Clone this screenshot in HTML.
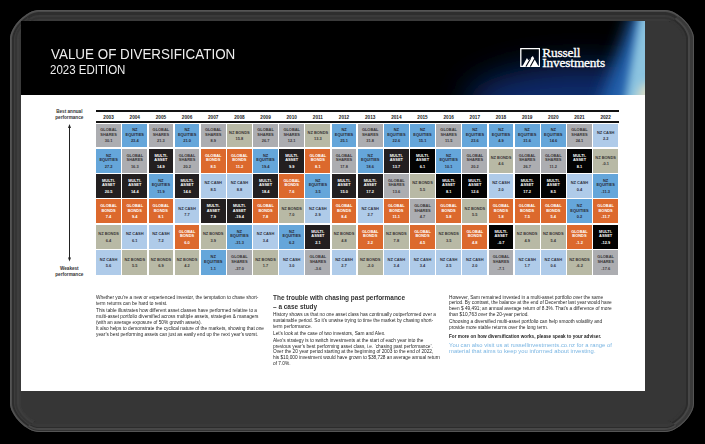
<!DOCTYPE html>
<html><head><meta charset="utf-8">
<style>
html,body{margin:0;padding:0;}
body{width:705px;height:444px;background:#000;position:relative;overflow:hidden;font-family:"Liberation Sans",sans-serif;}
.doc{position:absolute;left:21px;top:21px;width:624px;height:370px;background:#fff;overflow:hidden;}
.hdr{position:absolute;left:0;top:0;width:624px;height:74px;background:#000;overflow:hidden;}
.glow{position:absolute;left:0;top:0;width:624px;height:74px;}
.t1{position:absolute;left:29.5px;top:24.7px;color:#eee;font-size:15.5px;line-height:16px;white-space:nowrap;transform:scaleX(0.865);transform-origin:0 0;}
.t2{position:absolute;left:28.6px;top:42.3px;color:#eee;font-size:12.5px;line-height:14px;white-space:nowrap;transform:scaleX(0.92);transform-origin:0 0;}
.logo{position:absolute;left:498.6px;top:26.8px;width:20.3px;height:19px;}
.rus{position:absolute;left:521.3px;top:26.6px;color:#fff;font-family:"Liberation Serif",serif;font-size:13.3px;line-height:10.4px;white-space:nowrap;letter-spacing:-0.15px;-webkit-text-stroke:0.35px #fff;}
.c{position:absolute;display:flex;align-items:center;justify-content:center;text-align:center;font-weight:bold;}
.c>div{display:flex;flex-direction:column;align-items:center;padding-top:1.4px;}
.l{font-size:3.95px;line-height:4.6px;}
.v{font-size:3.95px;line-height:4.5px;margin-top:1.9px;}
.GS{background:#acadb1;color:#3a3536;}
.NE{background:#65a6da;color:#2a2a35;}
.MA{background:#231f20;color:#fff;}
.MB{background:#030303;}
.GB{background:#dc692d;color:#fff;}
.NB{background:#b8b9a5;color:#3a3536;}
.NC{background:#afcbe9;color:#2e3040;}
.yr{position:absolute;top:115.1px;height:6px;font-size:4.7px;line-height:6px;font-weight:bold;text-align:center;color:#222;}
.line{position:absolute;left:95.9px;width:523px;height:2px;background:#111;}
.side{position:absolute;font-size:4.65px;line-height:6.1px;font-weight:bold;color:#333;text-align:center;width:40px;}
.arr{position:absolute;left:69px;top:127px;width:1px;height:131px;background:#222;}
.p{position:absolute;font-size:4.9px;line-height:5.9px;color:#252525;white-space:nowrap;transform:scaleX(0.973);transform-origin:0 0;}
.p div{margin-bottom:0.9px;}
</style></head><body>
<svg style="position:absolute;left:0;top:0" width="705" height="444" viewBox="0 0 705 444"><defs>
<clipPath id="cL"><path shape-rendering="crispEdges" d="M0 0L352 221L0 444Z"/></clipPath>
<clipPath id="cT"><path shape-rendering="crispEdges" d="M0 0L352 221L705 0Z"/></clipPath>
<clipPath id="cR"><path shape-rendering="crispEdges" d="M705 0L352 221L705 444Z"/></clipPath>
<clipPath id="cB"><path shape-rendering="crispEdges" d="M0 444L352 221L705 444Z"/></clipPath>
</defs>
<path d="M38.80 10.00H665.20C677.30 10.00 694.00 26.70 694.00 38.80V403.20C694.00 415.30 677.30 432.00 665.20 432.00H38.80C26.70 432.00 10.00 415.30 10.00 403.20V38.80C10.00 26.70 26.70 10.00 38.80 10.00Z" fill="#3a3a3a"/>
<g clip-path="url(#cL)">
<path d="M38.80 10.00H665.20C677.30 10.00 694.00 26.70 694.00 38.80V403.20C694.00 415.30 677.30 432.00 665.20 432.00H38.80C26.70 432.00 10.00 415.30 10.00 403.20V38.80C10.00 26.70 26.70 10.00 38.80 10.00Z" fill="#555"/>
<path d="M38.80 11.00H665.20C676.88 11.00 693.00 27.12 693.00 38.80V403.20C693.00 414.88 676.88 431.00 665.20 431.00H38.80C27.12 431.00 11.00 414.88 11.00 403.20V38.80C11.00 27.12 27.12 11.00 38.80 11.00Z" fill="#4d4d4d"/>
<path d="M38.80 12.00H665.20C676.46 12.00 692.00 27.54 692.00 38.80V403.20C692.00 414.46 676.46 430.00 665.20 430.00H38.80C27.54 430.00 12.00 414.46 12.00 403.20V38.80C12.00 27.54 27.54 12.00 38.80 12.00Z" fill="#2e2e2e"/>
<path d="M38.80 13.00H665.20C676.04 13.00 691.00 27.96 691.00 38.80V403.20C691.00 414.04 676.04 429.00 665.20 429.00H38.80C27.96 429.00 13.00 414.04 13.00 403.20V38.80C13.00 27.96 27.96 13.00 38.80 13.00Z" fill="#2e2e2e"/>
<path d="M38.80 14.00H665.20C675.62 14.00 690.00 28.38 690.00 38.80V403.20C690.00 413.62 675.62 428.00 665.20 428.00H38.80C28.38 428.00 14.00 413.62 14.00 403.20V38.80C14.00 28.38 28.38 14.00 38.80 14.00Z" fill="#3c3c3c"/>
<path d="M38.80 15.00H665.20C675.20 15.00 689.00 28.80 689.00 38.80V403.20C689.00 413.20 675.20 427.00 665.20 427.00H38.80C28.80 427.00 15.00 413.20 15.00 403.20V38.80C15.00 28.80 28.80 15.00 38.80 15.00Z" fill="#353535"/>
<path d="M38.80 16.00H665.20C674.78 16.00 688.00 29.22 688.00 38.80V403.20C688.00 412.78 674.78 426.00 665.20 426.00H38.80C29.22 426.00 16.00 412.78 16.00 403.20V38.80C16.00 29.22 29.22 16.00 38.80 16.00Z" fill="#353535"/>
<path d="M38.80 17.00H665.20C674.36 17.00 687.00 29.64 687.00 38.80V403.20C687.00 412.36 674.36 425.00 665.20 425.00H38.80C29.64 425.00 17.00 412.36 17.00 403.20V38.80C17.00 29.64 29.64 17.00 38.80 17.00Z" fill="#3e3e3e"/>
<path d="M38.80 18.00H665.20C673.94 18.00 686.00 30.06 686.00 38.80V403.20C686.00 411.94 673.94 424.00 665.20 424.00H38.80C30.06 424.00 18.00 411.94 18.00 403.20V38.80C18.00 30.06 30.06 18.00 38.80 18.00Z" fill="#3e3e3e"/>
<path d="M38.80 19.00H665.20C673.52 19.00 685.00 30.48 685.00 38.80V403.20C685.00 411.52 673.52 423.00 665.20 423.00H38.80C30.48 423.00 19.00 411.52 19.00 403.20V38.80C19.00 30.48 30.48 19.00 38.80 19.00Z" fill="#3a3a3a"/>
<path d="M38.80 20.00H665.20C673.10 20.00 684.00 30.90 684.00 38.80V403.20C684.00 411.10 673.10 422.00 665.20 422.00H38.80C30.90 422.00 20.00 411.10 20.00 403.20V38.80C20.00 30.90 30.90 20.00 38.80 20.00Z" fill="#3a3a3a"/>
<path d="M38.80 21.00H665.20C672.68 21.00 683.00 31.32 683.00 38.80V403.20C683.00 410.68 672.68 421.00 665.20 421.00H38.80C31.32 421.00 21.00 410.68 21.00 403.20V38.80C21.00 31.32 31.32 21.00 38.80 21.00Z" fill="#363636"/>
</g>
<g clip-path="url(#cT)">
<path d="M38.80 10.00H665.20C677.30 10.00 694.00 26.70 694.00 38.80V403.20C694.00 415.30 677.30 432.00 665.20 432.00H38.80C26.70 432.00 10.00 415.30 10.00 403.20V38.80C10.00 26.70 26.70 10.00 38.80 10.00Z" fill="#555"/>
<path d="M38.80 11.00H665.20C676.88 11.00 693.00 27.12 693.00 38.80V403.20C693.00 414.88 676.88 431.00 665.20 431.00H38.80C27.12 431.00 11.00 414.88 11.00 403.20V38.80C11.00 27.12 27.12 11.00 38.80 11.00Z" fill="#4a4a4a"/>
<path d="M38.80 12.00H665.20C676.46 12.00 692.00 27.54 692.00 38.80V403.20C692.00 414.46 676.46 430.00 665.20 430.00H38.80C27.54 430.00 12.00 414.46 12.00 403.20V38.80C12.00 27.54 27.54 12.00 38.80 12.00Z" fill="#2e2e2e"/>
<path d="M38.80 13.00H665.20C676.04 13.00 691.00 27.96 691.00 38.80V403.20C691.00 414.04 676.04 429.00 665.20 429.00H38.80C27.96 429.00 13.00 414.04 13.00 403.20V38.80C13.00 27.96 27.96 13.00 38.80 13.00Z" fill="#2e2e2e"/>
<path d="M38.80 14.00H665.20C675.62 14.00 690.00 28.38 690.00 38.80V403.20C690.00 413.62 675.62 428.00 665.20 428.00H38.80C28.38 428.00 14.00 413.62 14.00 403.20V38.80C14.00 28.38 28.38 14.00 38.80 14.00Z" fill="#2e2e2e"/>
<path d="M38.80 15.00H665.20C675.20 15.00 689.00 28.80 689.00 38.80V403.20C689.00 413.20 675.20 427.00 665.20 427.00H38.80C28.80 427.00 15.00 413.20 15.00 403.20V38.80C15.00 28.80 28.80 15.00 38.80 15.00Z" fill="#3a3a3a"/>
<path d="M38.80 16.00H665.20C674.78 16.00 688.00 29.22 688.00 38.80V403.20C688.00 412.78 674.78 426.00 665.20 426.00H38.80C29.22 426.00 16.00 412.78 16.00 403.20V38.80C16.00 29.22 29.22 16.00 38.80 16.00Z" fill="#3a3a3a"/>
<path d="M38.80 17.00H665.20C674.36 17.00 687.00 29.64 687.00 38.80V403.20C687.00 412.36 674.36 425.00 665.20 425.00H38.80C29.64 425.00 17.00 412.36 17.00 403.20V38.80C17.00 29.64 29.64 17.00 38.80 17.00Z" fill="#333"/>
<path d="M38.80 18.00H665.20C673.94 18.00 686.00 30.06 686.00 38.80V403.20C686.00 411.94 673.94 424.00 665.20 424.00H38.80C30.06 424.00 18.00 411.94 18.00 403.20V38.80C18.00 30.06 30.06 18.00 38.80 18.00Z" fill="#333"/>
<path d="M38.80 19.00H665.20C673.52 19.00 685.00 30.48 685.00 38.80V403.20C685.00 411.52 673.52 423.00 665.20 423.00H38.80C30.48 423.00 19.00 411.52 19.00 403.20V38.80C19.00 30.48 30.48 19.00 38.80 19.00Z" fill="#3a3a3a"/>
<path d="M38.80 20.00H665.20C673.10 20.00 684.00 30.90 684.00 38.80V403.20C684.00 411.10 673.10 422.00 665.20 422.00H38.80C30.90 422.00 20.00 411.10 20.00 403.20V38.80C20.00 30.90 30.90 20.00 38.80 20.00Z" fill="#3a3a3a"/>
<path d="M38.80 21.00H665.20C672.68 21.00 683.00 31.32 683.00 38.80V403.20C683.00 410.68 672.68 421.00 665.20 421.00H38.80C31.32 421.00 21.00 410.68 21.00 403.20V38.80C21.00 31.32 31.32 21.00 38.80 21.00Z" fill="#363636"/>
</g>
<g clip-path="url(#cR)">
<path d="M38.80 10.00H665.20C677.30 10.00 694.00 26.70 694.00 38.80V403.20C694.00 415.30 677.30 432.00 665.20 432.00H38.80C26.70 432.00 10.00 415.30 10.00 403.20V38.80C10.00 26.70 26.70 10.00 38.80 10.00Z" fill="#555"/>
<path d="M38.80 11.00H665.20C676.88 11.00 693.00 27.12 693.00 38.80V403.20C693.00 414.88 676.88 431.00 665.20 431.00H38.80C27.12 431.00 11.00 414.88 11.00 403.20V38.80C11.00 27.12 27.12 11.00 38.80 11.00Z" fill="#3a3a3a"/>
<path d="M38.80 12.00H665.20C676.46 12.00 692.00 27.54 692.00 38.80V403.20C692.00 414.46 676.46 430.00 665.20 430.00H38.80C27.54 430.00 12.00 414.46 12.00 403.20V38.80C12.00 27.54 27.54 12.00 38.80 12.00Z" fill="#3a3a3a"/>
<path d="M38.80 13.00H665.20C676.04 13.00 691.00 27.96 691.00 38.80V403.20C691.00 414.04 676.04 429.00 665.20 429.00H38.80C27.96 429.00 13.00 414.04 13.00 403.20V38.80C13.00 27.96 27.96 13.00 38.80 13.00Z" fill="#3a3a3a"/>
<path d="M38.80 14.00H665.20C675.62 14.00 690.00 28.38 690.00 38.80V403.20C690.00 413.62 675.62 428.00 665.20 428.00H38.80C28.38 428.00 14.00 413.62 14.00 403.20V38.80C14.00 28.38 28.38 14.00 38.80 14.00Z" fill="#474747"/>
<path d="M38.80 15.00H665.20C675.20 15.00 689.00 28.80 689.00 38.80V403.20C689.00 413.20 675.20 427.00 665.20 427.00H38.80C28.80 427.00 15.00 413.20 15.00 403.20V38.80C15.00 28.80 28.80 15.00 38.80 15.00Z" fill="#474747"/>
<path d="M38.80 16.00H665.20C674.78 16.00 688.00 29.22 688.00 38.80V403.20C688.00 412.78 674.78 426.00 665.20 426.00H38.80C29.22 426.00 16.00 412.78 16.00 403.20V38.80C16.00 29.22 29.22 16.00 38.80 16.00Z" fill="#2c2c2c"/>
<path d="M38.80 17.00H665.20C674.36 17.00 687.00 29.64 687.00 38.80V403.20C687.00 412.36 674.36 425.00 665.20 425.00H38.80C29.64 425.00 17.00 412.36 17.00 403.20V38.80C17.00 29.64 29.64 17.00 38.80 17.00Z" fill="#2c2c2c"/>
<path d="M38.80 18.00H665.20C673.94 18.00 686.00 30.06 686.00 38.80V403.20C686.00 411.94 673.94 424.00 665.20 424.00H38.80C30.06 424.00 18.00 411.94 18.00 403.20V38.80C18.00 30.06 30.06 18.00 38.80 18.00Z" fill="#363636"/>
<path d="M38.80 19.00H665.20C673.52 19.00 685.00 30.48 685.00 38.80V403.20C685.00 411.52 673.52 423.00 665.20 423.00H38.80C30.48 423.00 19.00 411.52 19.00 403.20V38.80C19.00 30.48 30.48 19.00 38.80 19.00Z" fill="#363636"/>
<path d="M38.80 20.00H665.20C673.10 20.00 684.00 30.90 684.00 38.80V403.20C684.00 411.10 673.10 422.00 665.20 422.00H38.80C30.90 422.00 20.00 411.10 20.00 403.20V38.80C20.00 30.90 30.90 20.00 38.80 20.00Z" fill="#363636"/>
<path d="M38.80 21.00H665.20C672.68 21.00 683.00 31.32 683.00 38.80V403.20C683.00 410.68 672.68 421.00 665.20 421.00H38.80C31.32 421.00 21.00 410.68 21.00 403.20V38.80C21.00 31.32 31.32 21.00 38.80 21.00Z" fill="#363636"/>
</g>
<g clip-path="url(#cB)">
<path d="M38.80 10.00H665.20C677.30 10.00 694.00 26.70 694.00 38.80V403.20C694.00 415.30 677.30 432.00 665.20 432.00H38.80C26.70 432.00 10.00 415.30 10.00 403.20V38.80C10.00 26.70 26.70 10.00 38.80 10.00Z" fill="#555"/>
<path d="M38.80 11.00H665.20C676.88 11.00 693.00 27.12 693.00 38.80V403.20C693.00 414.88 676.88 431.00 665.20 431.00H38.80C27.12 431.00 11.00 414.88 11.00 403.20V38.80C11.00 27.12 27.12 11.00 38.80 11.00Z" fill="#333"/>
<path d="M38.80 12.00H665.20C676.46 12.00 692.00 27.54 692.00 38.80V403.20C692.00 414.46 676.46 430.00 665.20 430.00H38.80C27.54 430.00 12.00 414.46 12.00 403.20V38.80C12.00 27.54 27.54 12.00 38.80 12.00Z" fill="#474747"/>
<path d="M38.80 13.00H665.20C676.04 13.00 691.00 27.96 691.00 38.80V403.20C691.00 414.04 676.04 429.00 665.20 429.00H38.80C27.96 429.00 13.00 414.04 13.00 403.20V38.80C13.00 27.96 27.96 13.00 38.80 13.00Z" fill="#474747"/>
<path d="M38.80 14.00H665.20C675.62 14.00 690.00 28.38 690.00 38.80V403.20C690.00 413.62 675.62 428.00 665.20 428.00H38.80C28.38 428.00 14.00 413.62 14.00 403.20V38.80C14.00 28.38 28.38 14.00 38.80 14.00Z" fill="#2c2c2c"/>
<path d="M38.80 15.00H665.20C675.20 15.00 689.00 28.80 689.00 38.80V403.20C689.00 413.20 675.20 427.00 665.20 427.00H38.80C28.80 427.00 15.00 413.20 15.00 403.20V38.80C15.00 28.80 28.80 15.00 38.80 15.00Z" fill="#393939"/>
<path d="M38.80 16.00H665.20C674.78 16.00 688.00 29.22 688.00 38.80V403.20C688.00 412.78 674.78 426.00 665.20 426.00H38.80C29.22 426.00 16.00 412.78 16.00 403.20V38.80C16.00 29.22 29.22 16.00 38.80 16.00Z" fill="#393939"/>
<path d="M38.80 17.00H665.20C674.36 17.00 687.00 29.64 687.00 38.80V403.20C687.00 412.36 674.36 425.00 665.20 425.00H38.80C29.64 425.00 17.00 412.36 17.00 403.20V38.80C17.00 29.64 29.64 17.00 38.80 17.00Z" fill="#393939"/>
<path d="M38.80 18.00H665.20C673.94 18.00 686.00 30.06 686.00 38.80V403.20C686.00 411.94 673.94 424.00 665.20 424.00H38.80C30.06 424.00 18.00 411.94 18.00 403.20V38.80C18.00 30.06 30.06 18.00 38.80 18.00Z" fill="#363636"/>
<path d="M38.80 19.00H665.20C673.52 19.00 685.00 30.48 685.00 38.80V403.20C685.00 411.52 673.52 423.00 665.20 423.00H38.80C30.48 423.00 19.00 411.52 19.00 403.20V38.80C19.00 30.48 30.48 19.00 38.80 19.00Z" fill="#363636"/>
<path d="M38.80 20.00H665.20C673.10 20.00 684.00 30.90 684.00 38.80V403.20C684.00 411.10 673.10 422.00 665.20 422.00H38.80C30.90 422.00 20.00 411.10 20.00 403.20V38.80C20.00 30.90 30.90 20.00 38.80 20.00Z" fill="#363636"/>
<path d="M38.80 21.00H665.20C672.68 21.00 683.00 31.32 683.00 38.80V403.20C683.00 410.68 672.68 421.00 665.20 421.00H38.80C31.32 421.00 21.00 410.68 21.00 403.20V38.80C21.00 31.32 31.32 21.00 38.80 21.00Z" fill="#363636"/>
</g>
<path d="M38.80 21.00H665.20C672.68 21.00 683.00 31.32 683.00 38.80V403.20C683.00 410.68 672.68 421.00 665.20 421.00H38.80C31.32 421.00 21.00 410.68 21.00 403.20V38.80C21.00 31.32 31.32 21.00 38.80 21.00Z" fill="#363636"/>
</svg>

<div class="doc">
 <div class="hdr"><svg class="glow" width="624" height="74" viewBox="0 0 624 74"><defs>
<filter id="b20" x="-50%" y="-50%" width="200%" height="200%"><feGaussianBlur stdDeviation="16"/></filter>
<filter id="b8" x="-50%" y="-50%" width="200%" height="200%"><feGaussianBlur stdDeviation="8"/></filter>
<filter id="b4" x="-50%" y="-50%" width="200%" height="200%"><feGaussianBlur stdDeviation="4"/></filter>
</defs>
<ellipse cx="560" cy="82" rx="115" ry="38" fill="#0a2a6a" filter="url(#b20)"/>
<path d="M612 -10 L640 -10 L640 90 L576 90 Z" fill="#2060ac" filter="url(#b8)"/>
<path d="M619 -10 L640 -10 L640 90 L602 90 Z" fill="#8cc4e0" filter="url(#b4)"/>
<ellipse cx="626" cy="80" rx="10" ry="18" fill="#d6dcc8" filter="url(#b4)"/>
</svg>
  <div class="t1">VALUE OF DIVERSIFICATION</div>
  <div class="t2">2023 EDITION</div>
  <svg class="logo" viewBox="0 0 20 19"><path d="M0.65 0.65H19.35V18.35H0.65Z" fill="none" stroke="#fff" stroke-width="1.3"/><path d="M2.4 17.9 L6.8 10 L8.2 12.2 L12.7 7.9 L14.7 11.7 L18.2 17.9Z" fill="#fff"/><path d="M5.8 18.6 L10.6 10.2 M10.2 18.6 L14.6 10.6" stroke="#020610" stroke-width="1.1"/></svg>
  <div class="rus">Russell<br>Investments</div>
 </div>
</div>
<div class="line" style="top:110px"></div>
<div class="line" style="top:121px"></div>
<div class="yr" style="left:96.20px;width:24.80px">2003</div>
<div class="yr" style="left:122.36px;width:24.80px">2004</div>
<div class="yr" style="left:148.52px;width:24.80px">2005</div>
<div class="yr" style="left:174.68px;width:24.80px">2006</div>
<div class="yr" style="left:200.84px;width:24.80px">2007</div>
<div class="yr" style="left:227.00px;width:24.80px">2008</div>
<div class="yr" style="left:253.16px;width:24.80px">2009</div>
<div class="yr" style="left:279.32px;width:24.80px">2010</div>
<div class="yr" style="left:305.48px;width:24.80px">2011</div>
<div class="yr" style="left:331.64px;width:24.80px">2012</div>
<div class="yr" style="left:357.80px;width:24.80px">2013</div>
<div class="yr" style="left:383.96px;width:24.80px">2014</div>
<div class="yr" style="left:410.12px;width:24.80px">2015</div>
<div class="yr" style="left:436.28px;width:24.80px">2016</div>
<div class="yr" style="left:462.44px;width:24.80px">2017</div>
<div class="yr" style="left:488.60px;width:24.80px">2018</div>
<div class="yr" style="left:514.76px;width:24.80px">2019</div>
<div class="yr" style="left:540.92px;width:24.80px">2020</div>
<div class="yr" style="left:567.08px;width:24.80px">2021</div>
<div class="yr" style="left:593.24px;width:24.80px">2022</div>
<div class="side" style="left:49.3px;top:109.3px">Best annual<br>performance</div>
<div class="arr"></div>
<svg style="position:absolute;left:67px;top:124.3px" width="5" height="5"><path d="M2.5 0 L4 4 L1 4Z" fill="#222"/></svg>
<svg style="position:absolute;left:67px;top:256.5px" width="5" height="5"><path d="M2.5 4.5 L4 0.5 L1 0.5Z" fill="#222"/></svg>
<div class="side" style="left:49.3px;top:266.3px">Weakest<br>performance</div>
<div class="c GS" style="left:96.20px;top:124.00px;width:24.80px;height:23.00px"><div><span class="l">GLOBAL<br>SHARES</span><span class="v">30.1</span></div></div>
<div class="c NE" style="left:96.20px;top:148.60px;width:24.80px;height:24.30px"><div><span class="l">NZ<br>EQUITIES</span><span class="v">27.2</span></div></div>
<div class="c MA" style="left:96.20px;top:174.10px;width:24.80px;height:23.80px"><div><span class="l">MULTI-<br>ASSET</span><span class="v">20.5</span></div></div>
<div class="c GB" style="left:96.20px;top:199.30px;width:24.80px;height:24.20px"><div><span class="l">GLOBAL<br>BONDS</span><span class="v">7.4</span></div></div>
<div class="c NB" style="left:96.20px;top:224.70px;width:24.80px;height:24.30px"><div><span class="l">NZ BONDS</span><span class="v">6.4</span></div></div>
<div class="c NC" style="left:96.20px;top:250.40px;width:24.80px;height:24.30px"><div><span class="l">NZ CASH</span><span class="v">5.6</span></div></div>
<div class="c NE" style="left:122.36px;top:124.00px;width:24.80px;height:23.00px"><div><span class="l">NZ<br>EQUITIES</span><span class="v">23.4</span></div></div>
<div class="c GS" style="left:122.36px;top:148.60px;width:24.80px;height:24.30px"><div><span class="l">GLOBAL<br>SHARES</span><span class="v">16.3</span></div></div>
<div class="c MA" style="left:122.36px;top:174.10px;width:24.80px;height:23.80px"><div><span class="l">MULTI-<br>ASSET</span><span class="v">14.4</span></div></div>
<div class="c GB" style="left:122.36px;top:199.30px;width:24.80px;height:24.20px"><div><span class="l">GLOBAL<br>BONDS</span><span class="v">9.4</span></div></div>
<div class="c NC" style="left:122.36px;top:224.70px;width:24.80px;height:24.30px"><div><span class="l">NZ CASH</span><span class="v">6.1</span></div></div>
<div class="c NB" style="left:122.36px;top:250.40px;width:24.80px;height:24.30px"><div><span class="l">NZ BONDS</span><span class="v">5.5</span></div></div>
<div class="c GS" style="left:148.52px;top:124.00px;width:24.80px;height:23.00px"><div><span class="l">GLOBAL<br>SHARES</span><span class="v">21.3</span></div></div>
<div class="c MA" style="left:148.52px;top:148.60px;width:24.80px;height:24.30px"><div><span class="l">MULTI-<br>ASSET</span><span class="v">14.9</span></div></div>
<div class="c NE" style="left:148.52px;top:174.10px;width:24.80px;height:23.80px"><div><span class="l">NZ<br>EQUITIES</span><span class="v">11.9</span></div></div>
<div class="c GB" style="left:148.52px;top:199.30px;width:24.80px;height:24.20px"><div><span class="l">GLOBAL<br>BONDS</span><span class="v">8.1</span></div></div>
<div class="c NC" style="left:148.52px;top:224.70px;width:24.80px;height:24.30px"><div><span class="l">NZ CASH</span><span class="v">7.2</span></div></div>
<div class="c NB" style="left:148.52px;top:250.40px;width:24.80px;height:24.30px"><div><span class="l">NZ BONDS</span><span class="v">6.9</span></div></div>
<div class="c NE" style="left:174.68px;top:124.00px;width:24.80px;height:23.00px"><div><span class="l">NZ<br>EQUITIES</span><span class="v">21.0</span></div></div>
<div class="c GS" style="left:174.68px;top:148.60px;width:24.80px;height:24.30px"><div><span class="l">GLOBAL<br>SHARES</span><span class="v">20.2</span></div></div>
<div class="c MA" style="left:174.68px;top:174.10px;width:24.80px;height:23.80px"><div><span class="l">MULTI-<br>ASSET</span><span class="v">14.6</span></div></div>
<div class="c NC" style="left:174.68px;top:199.30px;width:24.80px;height:24.20px"><div><span class="l">NZ CASH</span><span class="v">7.7</span></div></div>
<div class="c GB" style="left:174.68px;top:224.70px;width:24.80px;height:24.30px"><div><span class="l">GLOBAL<br>BONDS</span><span class="v">6.0</span></div></div>
<div class="c NB" style="left:174.68px;top:250.40px;width:24.80px;height:24.30px"><div><span class="l">NZ BONDS</span><span class="v">4.2</span></div></div>
<div class="c GS" style="left:200.84px;top:124.00px;width:24.80px;height:23.00px"><div><span class="l">GLOBAL<br>SHARES</span><span class="v">8.9</span></div></div>
<div class="c GB" style="left:200.84px;top:148.60px;width:24.80px;height:24.30px"><div><span class="l">GLOBAL<br>BONDS</span><span class="v">8.5</span></div></div>
<div class="c NC" style="left:200.84px;top:174.10px;width:24.80px;height:23.80px"><div><span class="l">NZ CASH</span><span class="v">8.5</span></div></div>
<div class="c MA" style="left:200.84px;top:199.30px;width:24.80px;height:24.20px"><div><span class="l">MULTI-<br>ASSET</span><span class="v">7.9</span></div></div>
<div class="c NB" style="left:200.84px;top:224.70px;width:24.80px;height:24.30px"><div><span class="l">NZ BONDS</span><span class="v">3.9</span></div></div>
<div class="c NE" style="left:200.84px;top:250.40px;width:24.80px;height:24.30px"><div><span class="l">NZ<br>EQUITIES</span><span class="v">1.1</span></div></div>
<div class="c NB" style="left:227.00px;top:124.00px;width:24.80px;height:23.00px"><div><span class="l">NZ BONDS</span><span class="v">15.8</span></div></div>
<div class="c GB" style="left:227.00px;top:148.60px;width:24.80px;height:24.30px"><div><span class="l">GLOBAL<br>BONDS</span><span class="v">11.2</span></div></div>
<div class="c NC" style="left:227.00px;top:174.10px;width:24.80px;height:23.80px"><div><span class="l">NZ CASH</span><span class="v">8.8</span></div></div>
<div class="c MA" style="left:227.00px;top:199.30px;width:24.80px;height:24.20px"><div><span class="l">MULTI-<br>ASSET</span><span class="v">-19.4</span></div></div>
<div class="c NE" style="left:227.00px;top:224.70px;width:24.80px;height:24.30px"><div><span class="l">NZ<br>EQUITIES</span><span class="v">-31.3</span></div></div>
<div class="c GS" style="left:227.00px;top:250.40px;width:24.80px;height:24.30px"><div><span class="l">GLOBAL<br>SHARES</span><span class="v">-37.0</span></div></div>
<div class="c GS" style="left:253.16px;top:124.00px;width:24.80px;height:23.00px"><div><span class="l">GLOBAL<br>SHARES</span><span class="v">26.7</span></div></div>
<div class="c NE" style="left:253.16px;top:148.60px;width:24.80px;height:24.30px"><div><span class="l">NZ<br>EQUITIES</span><span class="v">19.4</span></div></div>
<div class="c MA" style="left:253.16px;top:174.10px;width:24.80px;height:23.80px"><div><span class="l">MULTI-<br>ASSET</span><span class="v">18.4</span></div></div>
<div class="c GB" style="left:253.16px;top:199.30px;width:24.80px;height:24.20px"><div><span class="l">GLOBAL<br>BONDS</span><span class="v">7.8</span></div></div>
<div class="c NC" style="left:253.16px;top:224.70px;width:24.80px;height:24.30px"><div><span class="l">NZ CASH</span><span class="v">3.4</span></div></div>
<div class="c NB" style="left:253.16px;top:250.40px;width:24.80px;height:24.30px"><div><span class="l">NZ BONDS</span><span class="v">1.7</span></div></div>
<div class="c GS" style="left:279.32px;top:124.00px;width:24.80px;height:23.00px"><div><span class="l">GLOBAL<br>SHARES</span><span class="v">12.1</span></div></div>
<div class="c MA" style="left:279.32px;top:148.60px;width:24.80px;height:24.30px"><div><span class="l">MULTI-<br>ASSET</span><span class="v">9.9</span></div></div>
<div class="c GB" style="left:279.32px;top:174.10px;width:24.80px;height:23.80px"><div><span class="l">GLOBAL<br>BONDS</span><span class="v">7.6</span></div></div>
<div class="c NB" style="left:279.32px;top:199.30px;width:24.80px;height:24.20px"><div><span class="l">NZ BONDS</span><span class="v">7.0</span></div></div>
<div class="c NE" style="left:279.32px;top:224.70px;width:24.80px;height:24.30px"><div><span class="l">NZ<br>EQUITIES</span><span class="v">6.2</span></div></div>
<div class="c NC" style="left:279.32px;top:250.40px;width:24.80px;height:24.30px"><div><span class="l">NZ CASH</span><span class="v">3.0</span></div></div>
<div class="c NB" style="left:305.48px;top:124.00px;width:24.80px;height:23.00px"><div><span class="l">NZ BONDS</span><span class="v">13.3</span></div></div>
<div class="c GB" style="left:305.48px;top:148.60px;width:24.80px;height:24.30px"><div><span class="l">GLOBAL<br>BONDS</span><span class="v">8.1</span></div></div>
<div class="c NE" style="left:305.48px;top:174.10px;width:24.80px;height:23.80px"><div><span class="l">NZ<br>EQUITIES</span><span class="v">3.5</span></div></div>
<div class="c NC" style="left:305.48px;top:199.30px;width:24.80px;height:24.20px"><div><span class="l">NZ CASH</span><span class="v">2.9</span></div></div>
<div class="c MA" style="left:305.48px;top:224.70px;width:24.80px;height:24.30px"><div><span class="l">MULTI-<br>ASSET</span><span class="v">2.1</span></div></div>
<div class="c GS" style="left:305.48px;top:250.40px;width:24.80px;height:24.30px"><div><span class="l">GLOBAL<br>SHARES</span><span class="v">-3.6</span></div></div>
<div class="c NE" style="left:331.64px;top:124.00px;width:24.80px;height:23.00px"><div><span class="l">NZ<br>EQUITIES</span><span class="v">25.1</span></div></div>
<div class="c GS" style="left:331.64px;top:148.60px;width:24.80px;height:24.30px"><div><span class="l">GLOBAL<br>SHARES</span><span class="v">17.8</span></div></div>
<div class="c MA" style="left:331.64px;top:174.10px;width:24.80px;height:23.80px"><div><span class="l">MULTI-<br>ASSET</span><span class="v">15.0</span></div></div>
<div class="c GB" style="left:331.64px;top:199.30px;width:24.80px;height:24.20px"><div><span class="l">GLOBAL<br>BONDS</span><span class="v">8.4</span></div></div>
<div class="c NB" style="left:331.64px;top:224.70px;width:24.80px;height:24.30px"><div><span class="l">NZ BONDS</span><span class="v">4.8</span></div></div>
<div class="c NC" style="left:331.64px;top:250.40px;width:24.80px;height:24.30px"><div><span class="l">NZ CASH</span><span class="v">2.7</span></div></div>
<div class="c GS" style="left:357.80px;top:124.00px;width:24.80px;height:23.00px"><div><span class="l">GLOBAL<br>SHARES</span><span class="v">31.8</span></div></div>
<div class="c NE" style="left:357.80px;top:148.60px;width:24.80px;height:24.30px"><div><span class="l">NZ<br>EQUITIES</span><span class="v">18.6</span></div></div>
<div class="c MA" style="left:357.80px;top:174.10px;width:24.80px;height:23.80px"><div><span class="l">MULTI-<br>ASSET</span><span class="v">17.2</span></div></div>
<div class="c NC" style="left:357.80px;top:199.30px;width:24.80px;height:24.20px"><div><span class="l">NZ CASH</span><span class="v">2.7</span></div></div>
<div class="c GB" style="left:357.80px;top:224.70px;width:24.80px;height:24.30px"><div><span class="l">GLOBAL<br>BONDS</span><span class="v">2.2</span></div></div>
<div class="c NB" style="left:357.80px;top:250.40px;width:24.80px;height:24.30px"><div><span class="l">NZ BONDS</span><span class="v">-2.0</span></div></div>
<div class="c NE" style="left:383.96px;top:124.00px;width:24.80px;height:23.00px"><div><span class="l">NZ<br>EQUITIES</span><span class="v">22.6</span></div></div>
<div class="c MA" style="left:383.96px;top:148.60px;width:24.80px;height:24.30px"><div><span class="l">MULTI-<br>ASSET</span><span class="v">13.7</span></div></div>
<div class="c GS" style="left:383.96px;top:174.10px;width:24.80px;height:23.80px"><div><span class="l">GLOBAL<br>SHARES</span><span class="v">13.6</span></div></div>
<div class="c GB" style="left:383.96px;top:199.30px;width:24.80px;height:24.20px"><div><span class="l">GLOBAL<br>BONDS</span><span class="v">11.1</span></div></div>
<div class="c NB" style="left:383.96px;top:224.70px;width:24.80px;height:24.30px"><div><span class="l">NZ BONDS</span><span class="v">7.8</span></div></div>
<div class="c NC" style="left:383.96px;top:250.40px;width:24.80px;height:24.30px"><div><span class="l">NZ CASH</span><span class="v">3.4</span></div></div>
<div class="c NE" style="left:410.12px;top:124.00px;width:24.80px;height:23.00px"><div><span class="l">NZ<br>EQUITIES</span><span class="v">15.1</span></div></div>
<div class="c MA MB" style="left:410.12px;top:148.60px;width:24.80px;height:24.30px"><div><span class="l">MULTI-<br>ASSET</span><span class="v">6.1</span></div></div>
<div class="c NB" style="left:410.12px;top:174.10px;width:24.80px;height:23.80px"><div><span class="l">NZ BONDS</span><span class="v">5.5</span></div></div>
<div class="c GS" style="left:410.12px;top:199.30px;width:24.80px;height:24.20px"><div><span class="l">GLOBAL<br>SHARES</span><span class="v">4.7</span></div></div>
<div class="c GB" style="left:410.12px;top:224.70px;width:24.80px;height:24.30px"><div><span class="l">GLOBAL<br>BONDS</span><span class="v">4.5</span></div></div>
<div class="c NC" style="left:410.12px;top:250.40px;width:24.80px;height:24.30px"><div><span class="l">NZ CASH</span><span class="v">3.4</span></div></div>
<div class="c GS" style="left:436.28px;top:124.00px;width:24.80px;height:23.00px"><div><span class="l">GLOBAL<br>SHARES</span><span class="v">11.5</span></div></div>
<div class="c NE" style="left:436.28px;top:148.60px;width:24.80px;height:24.30px"><div><span class="l">NZ<br>EQUITIES</span><span class="v">10.1</span></div></div>
<div class="c MA MB" style="left:436.28px;top:174.10px;width:24.80px;height:23.80px"><div><span class="l">MULTI-<br>ASSET</span><span class="v">8.1</span></div></div>
<div class="c GB" style="left:436.28px;top:199.30px;width:24.80px;height:24.20px"><div><span class="l">GLOBAL<br>BONDS</span><span class="v">5.8</span></div></div>
<div class="c NB" style="left:436.28px;top:224.70px;width:24.80px;height:24.30px"><div><span class="l">NZ BONDS</span><span class="v">3.5</span></div></div>
<div class="c NC" style="left:436.28px;top:250.40px;width:24.80px;height:24.30px"><div><span class="l">NZ CASH</span><span class="v">2.5</span></div></div>
<div class="c NE" style="left:462.44px;top:124.00px;width:24.80px;height:23.00px"><div><span class="l">NZ<br>EQUITIES</span><span class="v">23.6</span></div></div>
<div class="c GS" style="left:462.44px;top:148.60px;width:24.80px;height:24.30px"><div><span class="l">GLOBAL<br>SHARES</span><span class="v">20.2</span></div></div>
<div class="c MA MB" style="left:462.44px;top:174.10px;width:24.80px;height:23.80px"><div><span class="l">MULTI-<br>ASSET</span><span class="v">12.6</span></div></div>
<div class="c NB" style="left:462.44px;top:199.30px;width:24.80px;height:24.20px"><div><span class="l">NZ BONDS</span><span class="v">5.5</span></div></div>
<div class="c GB" style="left:462.44px;top:224.70px;width:24.80px;height:24.30px"><div><span class="l">GLOBAL<br>BONDS</span><span class="v">4.8</span></div></div>
<div class="c NC" style="left:462.44px;top:250.40px;width:24.80px;height:24.30px"><div><span class="l">NZ CASH</span><span class="v">2.0</span></div></div>
<div class="c NE" style="left:488.60px;top:124.00px;width:24.80px;height:23.00px"><div><span class="l">NZ<br>EQUITIES</span><span class="v">4.9</span></div></div>
<div class="c NB" style="left:488.60px;top:148.60px;width:24.80px;height:24.30px"><div><span class="l">NZ BONDS</span><span class="v">4.6</span></div></div>
<div class="c NC" style="left:488.60px;top:174.10px;width:24.80px;height:23.80px"><div><span class="l">NZ CASH</span><span class="v">2.0</span></div></div>
<div class="c GB" style="left:488.60px;top:199.30px;width:24.80px;height:24.20px"><div><span class="l">GLOBAL<br>BONDS</span><span class="v">1.8</span></div></div>
<div class="c MA MB" style="left:488.60px;top:224.70px;width:24.80px;height:24.30px"><div><span class="l">MULTI-<br>ASSET</span><span class="v">-0.7</span></div></div>
<div class="c GS" style="left:488.60px;top:250.40px;width:24.80px;height:24.30px"><div><span class="l">GLOBAL<br>SHARES</span><span class="v">-7.1</span></div></div>
<div class="c NE" style="left:514.76px;top:124.00px;width:24.80px;height:23.00px"><div><span class="l">NZ<br>EQUITIES</span><span class="v">31.6</span></div></div>
<div class="c GS" style="left:514.76px;top:148.60px;width:24.80px;height:24.30px"><div><span class="l">GLOBAL<br>SHARES</span><span class="v">26.7</span></div></div>
<div class="c MA MB" style="left:514.76px;top:174.10px;width:24.80px;height:23.80px"><div><span class="l">MULTI-<br>ASSET</span><span class="v">17.2</span></div></div>
<div class="c GB" style="left:514.76px;top:199.30px;width:24.80px;height:24.20px"><div><span class="l">GLOBAL<br>BONDS</span><span class="v">7.5</span></div></div>
<div class="c NB" style="left:514.76px;top:224.70px;width:24.80px;height:24.30px"><div><span class="l">NZ BONDS</span><span class="v">4.9</span></div></div>
<div class="c NC" style="left:514.76px;top:250.40px;width:24.80px;height:24.30px"><div><span class="l">NZ CASH</span><span class="v">1.7</span></div></div>
<div class="c NE" style="left:540.92px;top:124.00px;width:24.80px;height:23.00px"><div><span class="l">NZ<br>EQUITIES</span><span class="v">14.6</span></div></div>
<div class="c GS" style="left:540.92px;top:148.60px;width:24.80px;height:24.30px"><div><span class="l">GLOBAL<br>SHARES</span><span class="v">11.2</span></div></div>
<div class="c MA MB" style="left:540.92px;top:174.10px;width:24.80px;height:23.80px"><div><span class="l">MULTI-<br>ASSET</span><span class="v">8.5</span></div></div>
<div class="c GB" style="left:540.92px;top:199.30px;width:24.80px;height:24.20px"><div><span class="l">GLOBAL<br>BONDS</span><span class="v">5.4</span></div></div>
<div class="c NB" style="left:540.92px;top:224.70px;width:24.80px;height:24.30px"><div><span class="l">NZ BONDS</span><span class="v">5.4</span></div></div>
<div class="c NC" style="left:540.92px;top:250.40px;width:24.80px;height:24.30px"><div><span class="l">NZ CASH</span><span class="v">0.6</span></div></div>
<div class="c GS" style="left:567.08px;top:124.00px;width:24.80px;height:23.00px"><div><span class="l">GLOBAL<br>SHARES</span><span class="v">24.1</span></div></div>
<div class="c MA MB" style="left:567.08px;top:148.60px;width:24.80px;height:24.30px"><div><span class="l">MULTI-<br>ASSET</span><span class="v">8.1</span></div></div>
<div class="c NC" style="left:567.08px;top:174.10px;width:24.80px;height:23.80px"><div><span class="l">NZ CASH</span><span class="v">0.4</span></div></div>
<div class="c NE" style="left:567.08px;top:199.30px;width:24.80px;height:24.20px"><div><span class="l">NZ<br>EQUITIES</span><span class="v">0.2</span></div></div>
<div class="c GB" style="left:567.08px;top:224.70px;width:24.80px;height:24.30px"><div><span class="l">GLOBAL<br>BONDS</span><span class="v">-1.2</span></div></div>
<div class="c NB" style="left:567.08px;top:250.40px;width:24.80px;height:24.30px"><div><span class="l">NZ BONDS</span><span class="v">-6.2</span></div></div>
<div class="c NC" style="left:593.24px;top:124.00px;width:24.80px;height:23.00px"><div><span class="l">NZ CASH</span><span class="v">2.2</span></div></div>
<div class="c NB" style="left:593.24px;top:148.60px;width:24.80px;height:24.30px"><div><span class="l">NZ BONDS</span><span class="v">-0.1</span></div></div>
<div class="c NE" style="left:593.24px;top:174.10px;width:24.80px;height:23.80px"><div><span class="l">NZ<br>EQUITIES</span><span class="v">-11.3</span></div></div>
<div class="c GB" style="left:593.24px;top:199.30px;width:24.80px;height:24.20px"><div><span class="l">GLOBAL<br>BONDS</span><span class="v">-11.7</span></div></div>
<div class="c MA MB" style="left:593.24px;top:224.70px;width:24.80px;height:24.30px"><div><span class="l">MULTI-<br>ASSET</span><span class="v">-12.9</span></div></div>
<div class="c GS" style="left:593.24px;top:250.40px;width:24.80px;height:24.30px"><div><span class="l">GLOBAL<br>SHARES</span><span class="v">-17.6</span></div></div>
<div class="p" style="left:95.5px;top:295.1px">
<div>Whether you’re a new or experienced investor, the temptation to chase short-<br>term returns can be hard to resist.</div>
<div>This table illustrates how different asset classes have performed relative to a<br>multi-asset portfolio diversified across multiple assets, strategies &amp; managers<br>(with an average exposure of 50% growth assets).</div>
<div>It also helps to demonstrate the cyclical nature of the markets, showing that one<br>year’s best performing assets can just as easily end up the next year’s worst.</div>
</div>
<div class="p" style="left:272.5px;top:294.4px;font-size:7.3px;line-height:8.6px;font-weight:bold;color:#333;transform:scaleX(0.885);transform-origin:0 0">The trouble with chasing past performance<br>– a case study</div>
<div class="p" style="left:272.5px;top:312.2px">
<div>History shows us that no one asset class has continually outperformed over a<br>sustainable period. So it’s unwise trying to time the market by chasing short-<br>term performance.</div>
<div>Let’s look at the case of two investors, Sam and Alex.</div>
<div>Alex’s strategy is to switch investments at the start of each year into the<br>previous year’s best performing asset class, i.e. ‘chasing past performance’.<br>Over the 20 year period starting at the beginning of 2003 to the end of 2022,<br>his $10,000 investment would have grown to $38,728 an average annual return<br>of 7.0%.</div>
</div>
<div class="p" style="left:449px;top:294.5px">
<div>However, Sam remained invested in a multi-asset portfolio over the same<br>period. By contrast, the balance at the end of December last year would have<br>been $ 49,491; an annual average return of 8.3%. That’s a difference of more<br>than $10,763 over the 20-year period.</div>
<div>Choosing a diversified multi-asset portfolio can help smooth volatility and<br>provide more stable returns over the long term.</div>
<div style="font-weight:bold;color:#222;margin-top:2.9px;transform:scaleX(0.976);transform-origin:0 0">For more on how diversification works, please speak to your adviser.</div>
<div style="font-size:5.8px;line-height:6.6px;color:#78b4e2;margin-top:2px;letter-spacing:0.05px;transform:scaleX(1.028);transform-origin:0 0">You can also visit us at russellinvestments.co.nz for a range of<br>material that aims to keep you informed about investing.</div>
</div>
</body></html>
